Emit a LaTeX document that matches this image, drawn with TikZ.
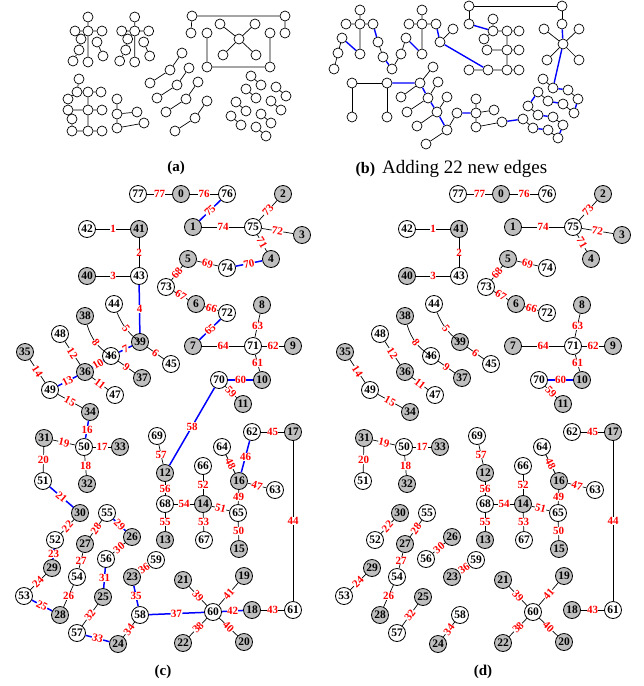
\documentclass[tikz,border=0pt]{standalone}
\usepackage{fontspec}
\setmainfont{Liberation Serif}
\definecolor{nodegray}{RGB}{191,191,191}

\tikzset{
  vtx/.style={circle, draw, line width=0.8pt, minimum size=17pt, inner sep=0pt,
    font=\bfseries\fontsize{11.5}{12}\selectfont},
  wnode/.style={vtx, fill=white},
  gnode/.style={vtx, fill=nodegray},
  elab/.style={fill=white, text=red, inner sep=0.3pt,
    font=\bfseries\fontsize{11}{11}\selectfont},
  selab/.style={elab, sloped},
  oldedge/.style={line width=0.7pt},
  newedge/.style={draw=blue, line width=1.5pt},
  dotn/.style={circle, draw, line width=0.7pt, minimum size=10pt, inner sep=0pt, fill=white},
  tline/.style={line width=0.7pt},
  bline/.style={draw=blue, line width=1.4pt},
  capt/.style={font=\bfseries\fontsize{15}{15}\selectfont}
}

% vertices of the labelled graph, panels (c) and (d)
\newcommand\treenodes{%
  \node[wnode] (77) at (138,194) {77};
  \node[gnode] (0) at (181,194) {0};
  \node[wnode] (76) at (227,194) {76};
  \node[gnode] (2) at (283,194) {2};
  \node[gnode] (1) at (193,227) {1};
  \node[wnode] (75) at (253,227) {75};
  \node[gnode] (3) at (302,235) {3};
  \node[wnode] (42) at (87,229) {42};
  \node[gnode] (41) at (139,229) {41};
  \node[gnode] (5) at (188,259) {5};
  \node[wnode] (74) at (227,268) {74};
  \node[gnode] (4) at (271,259) {4};
  \node[gnode] (40) at (87,276) {40};
  \node[wnode] (43) at (139,276) {43};
  \node[wnode] (73) at (166,287) {73};
  \node[gnode] (6) at (196,304) {6};
  \node[wnode] (72) at (227,313) {72};
  \node[gnode] (8) at (262,305) {8};
  \node[wnode] (44) at (114,304) {44};
  \node[gnode] (38) at (85,316) {38};
  \node[gnode] (39) at (140,342) {39};
  \node[wnode] (46) at (111,356) {46};
  \node[wnode] (45) at (171,364) {45};
  \node[gnode] (37) at (142,378) {37};
  \node[wnode] (48) at (60,334) {48};
  \node[gnode] (35) at (25,352) {35};
  \node[gnode] (36) at (85,372) {36};
  \node[wnode] (49) at (50,390) {49};
  \node[wnode] (47) at (115,395) {47};
  \node[gnode] (34) at (90,412) {34};
  \node[gnode] (7) at (193,346) {7};
  \node[wnode] (71) at (253,346) {71};
  \node[gnode] (9) at (293,346) {9};
  \node[wnode] (70) at (219,380) {70};
  \node[gnode] (10) at (262,380) {10};
  \node[gnode] (11) at (243,404) {11};
  \node[gnode] (31) at (44,438) {31};
  \node[wnode] (50) at (84,447) {50};
  \node[gnode] (33) at (120,447) {33};
  \node[wnode] (69) at (157,436) {69};
  \node[gnode] (12) at (165,473) {12};
  \node[wnode] (62) at (252,432) {62};
  \node[gnode] (17) at (293,432) {17};
  \node[wnode] (64) at (222,447) {64};
  \node[wnode] (66) at (203,466) {66};
  \node[gnode] (16) at (239,481) {16};
  \node[wnode] (51) at (43,481) {51};
  \node[gnode] (32) at (87,484) {32};
  \node[wnode] (63) at (275,490) {63};
  \node[wnode] (68) at (165,504) {68};
  \node[gnode] (14) at (203,504) {14};
  \node[wnode] (65) at (238,513) {65};
  \node[gnode] (30) at (80,513) {30};
  \node[wnode] (55) at (107,513) {55};
  \node[wnode] (52) at (55,540) {52};
  \node[gnode] (27) at (85,544) {27};
  \node[gnode] (26) at (132,537) {26};
  \node[gnode] (13) at (165,540) {13};
  \node[wnode] (67) at (204,540) {67};
  \node[gnode] (15) at (239,549) {15};
  \node[wnode] (56) at (106,559) {56};
  \node[wnode] (59) at (156,560) {59};
  \node[gnode] (29) at (52,568) {29};
  \node[wnode] (54) at (77,577) {54};
  \node[gnode] (25) at (103,597) {25};
  \node[gnode] (23) at (132,577) {23};
  \node[gnode] (21) at (183,580) {21};
  \node[gnode] (19) at (244,576) {19};
  \node[wnode] (53) at (24,596) {53};
  \node[gnode] (28) at (60,615) {28};
  \node[wnode] (58) at (140,615) {58};
  \node[wnode] (60) at (213,612) {60};
  \node[gnode] (18) at (252,610) {18};
  \node[wnode] (61) at (293,610) {61};
  \node[wnode] (57) at (77,633) {57};
  \node[gnode] (24) at (118,644) {24};
  \node[gnode] (22) at (183,643) {22};
  \node[gnode] (20) at (244,642) {20};
}

% edges kept in both panels
\newcommand\treeedges{%
  \draw[oldedge] (77) -- node[elab]{77} (0);
  \draw[oldedge] (0) -- node[elab]{76} (76);
  \draw[oldedge] (1) -- node[elab]{74} (75);
  \draw[oldedge] (75) -- node[selab]{73} (2);
  \draw[oldedge] (75) -- node[selab]{72} (3);
  \draw[oldedge] (75) -- node[selab]{71} (4);
  \draw[oldedge] (5) -- node[selab]{69} (74);
  \draw[oldedge] (5) -- node[selab]{68} (73);
  \draw[oldedge] (73) -- node[selab]{67} (6);
  \draw[oldedge] (6) -- node[selab]{66} (72);
  \draw[oldedge] (7) -- node[elab]{64} (71);
  \draw[oldedge] (8) -- node[elab]{63} (71);
  \draw[oldedge] (71) -- node[elab]{62} (9);
  \draw[oldedge] (71) -- node[elab]{61} (10);
  \draw[newedge] (70) -- node[elab]{60} (10);
  \draw[oldedge] (70) -- node[selab]{59} (11);
  \draw[oldedge] (69) -- node[elab]{57} (12);
  \draw[oldedge] (12) -- node[elab]{56} (68);
  \draw[oldedge] (68) -- node[elab]{55} (13);
  \draw[oldedge] (68) -- node[elab]{54} (14);
  \draw[oldedge] (14) -- node[elab]{53} (67);
  \draw[oldedge] (66) -- node[elab]{52} (14);
  \draw[oldedge] (14) -- node[selab]{51} (65);
  \draw[oldedge] (65) -- node[elab]{50} (15);
  \draw[oldedge] (16) -- node[elab]{49} (65);
  \draw[oldedge] (64) -- node[selab]{48} (16);
  \draw[oldedge] (16) -- node[selab]{47} (63);
  \draw[oldedge] (62) -- node[elab]{45} (17);
  \draw[oldedge] (17) -- node[elab]{44} (61);
  \draw[oldedge] (18) -- node[elab]{43} (61);
  \draw[oldedge] (60) -- node[selab]{41} (19);
  \draw[oldedge] (60) -- node[selab]{40} (20);
  \draw[oldedge] (21) -- node[selab]{39} (60);
  \draw[oldedge] (22) -- node[selab]{38} (60);
  \draw[oldedge] (23) -- node[selab]{36} (59);
  \draw[oldedge] (24) -- node[selab]{34} (58);
  \draw[oldedge] (57) -- node[selab]{32} (25);
  \draw[oldedge] (56) -- node[selab]{30} (26);
  \draw[oldedge] (27) -- node[selab]{28} (55);
  \draw[oldedge] (54) -- node[elab]{27} (27);
  \draw[oldedge] (28) -- node[elab]{26} (54);
  \draw[oldedge] (53) -- node[selab]{24} (29);
  \draw[oldedge] (52) -- node[selab]{22} (30);
  \draw[oldedge] (31) -- node[elab]{20} (51);
  \draw[oldedge] (31) -- node[selab]{19} (50);
  \draw[oldedge] (50) -- node[elab]{18} (32);
  \draw[oldedge] (50) -- node[elab]{17} (33);
  \draw[oldedge] (49) -- node[selab]{15} (34);
  \draw[oldedge] (35) -- node[selab]{14} (49);
  \draw[oldedge] (48) -- node[selab]{12} (36);
  \draw[oldedge] (36) -- node[selab]{11} (47);
  \draw[oldedge] (46) -- node[selab]{9} (37);
  \draw[oldedge] (38) to[bend right=20] node[selab]{8} (46);
  \draw[oldedge] (39) -- node[selab]{6} (45);
  \draw[oldedge] (44) to[bend right=15] node[selab]{5} (39);
  \draw[oldedge] (43) -- node[elab]{3} (40);
  \draw[oldedge] (41) -- node[elab]{2} (43);
  \draw[oldedge] (42) -- node[elab]{1} (41);
}

% the added edges, panel (c) only
\newcommand\addededges{%
  \draw[newedge] (76) -- node[selab]{75} (1);
  \draw[newedge] (74) -- node[selab]{70} (4);
  \draw[newedge] (72) -- node[selab]{65} (7);
  \draw[newedge] (70) -- node[elab]{58} (12);
  \draw[newedge] (16) -- node[elab]{46} (62);
  \draw[newedge] (60) -- node[elab]{42} (18);
  \draw[newedge] (58) -- node[selab]{37} (60);
  \draw[newedge] (23) -- node[elab]{35} (58);
  \draw[newedge] (57) -- node[selab]{33} (24);
  \draw[newedge] (56) -- node[elab]{31} (25);
  \draw[newedge] (55) -- node[selab]{29} (26);
  \draw[newedge] (53) -- node[selab]{25} (28);
  \draw[newedge] (52) -- node[elab]{23} (29);
  \draw[newedge] (51) -- node[selab]{21} (30);
  \draw[newedge] (34) -- node[elab]{16} (50);
  \draw[newedge] (49) -- node[selab]{13} (36);
  \draw[newedge] (46) -- node[selab]{10} (36);
  \draw[newedge] (46) -- node[selab]{7} (39);
  \draw[newedge] (43) -- node[elab]{4} (39);
}

\begin{document}
\begin{tikzpicture}[x=1pt,y=-1pt]
  \useasboundingbox (0,0) rectangle (644,686);

  % ---------- (a) ----------
  % two small trees
  \foreach \p/\dx in {p/0,q/46.7}{
    \begin{scope}[shift={(\dx,0)}]
      \foreach \n/\x/\y in {t/88/17, l/75/31, c/88/31, r/102/31, u/81/39,
                            v/97/42, w/79/50, x/103/56, y/73/61, z/88/62}
        \node[dotn] (\p-\n) at (\x,\y) {};
      \draw[tline] (\p-t) -- (\p-c) (\p-l) -- (\p-c) -- (\p-r) (\p-c) -- (\p-z)
        (\p-u) -- (\p-w) -- (\p-y) (\p-v) -- (\p-x);
    \end{scope}
  }
  % frame with star
  \foreach \n/\x/\y in {r1/192/16, r2/285/16, r3/191/33, r4/285/33, r5/207/33,
                        r6/270/33, r7/207/67, r8/270/67, s0/239/39, s1/220/24,
                        s2/255/24, s3/223/55, s4/256/55}
    \node[dotn] (a\n) at (\x,\y) {};
  \draw[tline] (ar3) -- (ar1) -- (ar2) -- (ar4) (ar5) -- (ar7) -- (ar8) -- (ar6);
  \foreach \i in {1,...,4}
    \draw[tline] (as0) -- (as\i);
  % comb
  \foreach \n/\x/\y in {0/79/79, 1/77/92, 2/88/92, 3/101/92, 4/68/99, 5/68/110,
                        6/88/110, 7/102/110, 8/72/119, 9/72/131, 10/88/131, 11/102/131}
    \node[dotn] (ak\n) at (\x,\y) {};
  \draw[tline] (ak0) -- (ak1) -- (ak2) -- (ak3) (ak2) -- (ak6) -- (ak10)
    (ak5) -- (ak6) -- (ak7) (ak9) -- (ak10) -- (ak11) (ak4) -- (ak1) (ak8) -- (ak9);
  % fork
  \foreach \n/\x/\y in {1/117/99, 2/117/114, 3/137/112, 4/117/128, 5/144/123}
    \node[dotn] (af\n) at (\x,\y) {};
  \draw[tline] (af1) -- (af2) -- (af4) -- (af5) (af2) -- (af3);
  % chains of three
  \foreach \j/\sx/\sy in {1/0/0, 2/7/15, 3/16/29, 4/25/48}{
    \begin{scope}[shift={(\sx,\sy)}]
      \node[dotn] (ac\j-1) at (150,83) {};
      \node[dotn] (ac\j-2) at (170,70) {};
      \node[dotn] (ac\j-3) at (182,53) {};
      \draw[tline] (ac\j-1) -- (ac\j-2) -- (ac\j-3);
    \end{scope}
  }
  % pairs
  \foreach \j/\x/\y in {1/251/76, 2/246/89, 3/276/87, 4/236/102,
                        5/271/101, 6/231/116, 7/261/114, 8/256/127}{
    \node[dotn] (ap\j-1) at (\x,\y) {};
    \node[dotn] (ap\j-2) at (\x+10,\y+9) {};
    \draw[tline] (ap\j-1) -- (ap\j-2);
  }
  \node[capt] (capa) at (176,168) {(a)};

  % ---------- (b) ----------
  \foreach \n/\x/\y in {t/360/10, l/346/24, c/360/24, r/373/24, u/342/38,
                        w/338/53, y/334/69, z/360/54, v/378/42, x/383/57}
    \node[dotn] (b1-\n) at (\x,\y) {};
  \foreach \n/\x/\y in {t/422/10, l/409/24, c/422/24, r/436/24, u/406/38,
                        w/401/54, y/392/69, z/422/54, v/440/42, x/453/29}
    \node[dotn] (b2-\n) at (\x,\y) {};
  \foreach \i in {1,2}
    \draw[tline] (b\i-t) -- (b\i-c) (b\i-l) -- (b\i-c) -- (b\i-r) (b\i-c) -- (b\i-z)
      (b\i-u) -- (b\i-w) -- (b\i-y) (b\i-v) -- (b\i-x);
  \foreach \n/\x/\y in {A/469/6, B/562/6, C/469/24, D/562/24}
    \node[dotn] (b\n) at (\x,\y) {};
  \foreach \n/\x/\y in {0/493/19, 1/493/31, 2/507/31, 3/519/31, 4/484/39, 5/487/50,
                        6/507/50, 7/519/50, 8/469/70, 9/488/70, 10/507/70, 11/519/70}
    \node[dotn] (bk\n) at (\x,\y) {};
  \foreach \n/\x/\y in {0/563/44, 1/544/29, 2/579/29, 3/547/60, 4/579/60}
    \node[dotn] (bs\n) at (\x,\y) {};
  \foreach \n/\x/\y in {1/352/83, 2/387/83, 3/352/117, 4/387/117}
    \node[dotn] (bq\n) at (\x,\y) {};
  \foreach \n/\x/\y in {1-1/433/67, 1-2/420/83, 1-3/401/97,
                        2-1/438/82, 2-2/428/98, 2-3/407/112,
                        3-1/447/97, 3-2/437/112, 3-3/417/126,
                        4-1/457/113, 4-2/447/130, 4-3/426/144}
    \node[dotn] (bc\n) at (\x,\y) {};
  \foreach \n/\x/\y in {1/476/99, 2/476/113, 3/494/110, 4/476/127, 5/502/122}
    \node[dotn] (bf\n) at (\x,\y) {};
  \foreach \j/\x/\y/\u/\v in {1/543/79/553/88, 2/568/90/578/99, 3/538/92/548/101,
                              4/563/104/574/113, 5/528/106/538/115, 6/553/117/563/125,
                              7/523/119/533/128, 8/548/130/558/138}{
    \node[dotn] (bp\j-1) at (\x,\y) {};
    \node[dotn] (bp\j-2) at (\u,\v) {};
    \draw[tline] (bp\j-1) -- (bp\j-2);
  }
  \draw[tline] (bC) -- (bA) -- (bB) -- (bD) (bq3) -- (bq1) -- (bq2) -- (bq4);
  \draw[tline] (bk0) -- (bk1) -- (bk2) -- (bk3) (bk2) -- (bk6) -- (bk10)
    (bk5) -- (bk6) -- (bk7) (bk8) -- (bk9) -- (bk10) -- (bk11) (bk4) -- (bk1);
  \foreach \i in {1,...,4}
    \draw[tline] (bs0) -- (bs\i);
  \foreach \i in {1,...,4}
    \draw[tline] (bc\i-1) -- (bc\i-2) -- (bc\i-3);
  \draw[tline] (bf1) -- (bf2) -- (bf4) -- (bf5) (bf2) -- (bf3);
  % the 22 new edges
  \draw[bline] (b1-u) -- (b1-z) (b1-r) -- (b1-v) (b1-x) -- (b2-y)
    (b2-u) -- (b2-z) (b2-r) -- (b2-v) (b2-v) -- (bk9);
  \draw[bline] (bC) -- (bk1) (bD) -- (bs0) (bs0) -- (bp1-2) (bq2) -- (bc1-2)
    (bc1-2) -- (bc2-2) (bc2-2) -- (bc3-2) (bc3-2) -- (bc4-2) (bc4-1) -- (bf2)
    (bf5) -- (bp7-1);
  \draw[bline] (bp1-2) -- (bp2-1) (bp2-2) -- (bp4-2) (bp3-1) -- (bp5-1)
    (bp3-2) -- (bp4-1) (bp5-2) -- (bp6-1) (bp6-2) -- (bp8-2) (bp7-2) -- (bp8-1);
  \node[anchor=base west] (capb) at (352,173)
    {\fontsize{16}{16}\selectfont\bfseries (b)\hspace{7pt}\mdseries\fontsize{19}{19}\selectfont Adding 22 new edges};

  % ---------- (c) ----------
  \begin{scope}[name prefix=c-]
    \treenodes
    \treeedges
    \addededges
  \end{scope}
  \node[capt] (capc) at (163,672) {(c)};

  % ---------- (d) ----------
  \begin{scope}[name prefix=d-, shift={(320,0)}]
    \treenodes
    \treeedges
  \end{scope}
  \node[capt] (capd) at (483,672) {(d)};
\end{tikzpicture}
\end{document}
